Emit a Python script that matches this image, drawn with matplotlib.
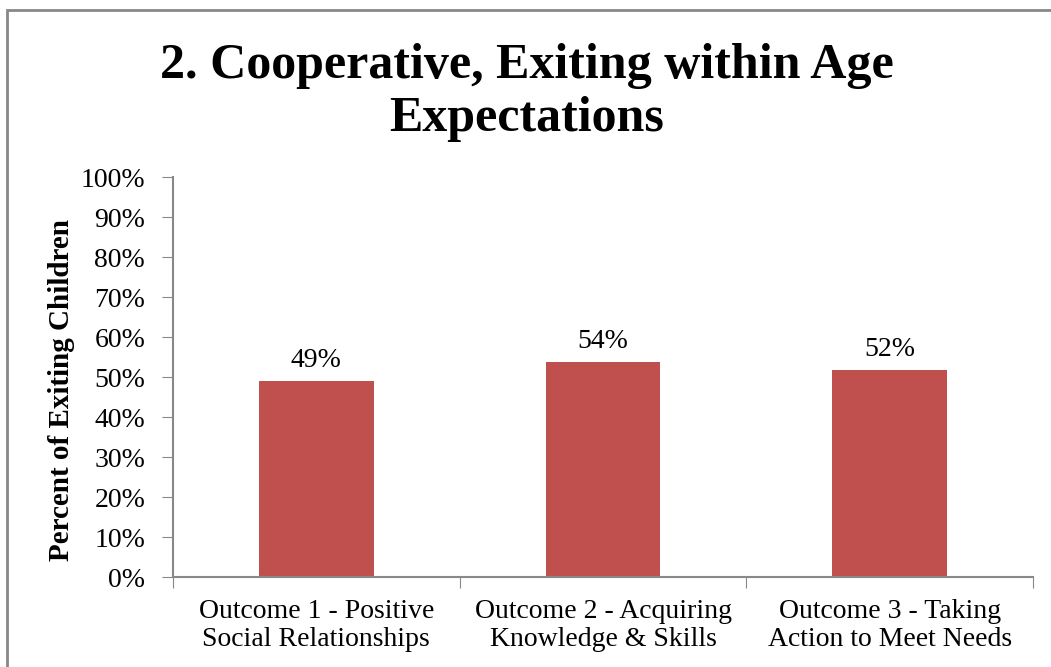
import matplotlib.pyplot as plt
from matplotlib.patches import Rectangle
from matplotlib.ticker import PercentFormatter

categories = ['Outcome 1 - Positive\nSocial Relationships',
              'Outcome 2 - Acquiring\nKnowledge & Skills',
              'Outcome 3 - Taking\nAction to Meet Needs']
values = [0.49, 0.537, 0.518]
labels = ['49%', '54%', '52%']

plt.rcParams['font.family'] = ['Liberation Serif', 'DejaVu Serif']

fig = plt.figure(figsize=(10.51, 6.67), dpi=100)
ax = fig.add_axes([0.1646, 0.1349, 0.8183, 0.5997])

x = range(len(categories))
ax.bar(x, values, width=0.4, color='#c0504d')
for i, v in enumerate(values):
    ax.text(i, v + 0.02, labels[i], ha='center', va='bottom', fontsize=20)

ax.set_xlim(-0.5, 2.5)
ax.set_ylim(0, 1)
ax.set_yticks([i / 10 for i in range(11)])
ax.yaxis.set_major_formatter(PercentFormatter(1.0, decimals=0))
ax.set_xticks([-0.5, 0.5, 1.5, 2.5])
ax.set_xticklabels([])
ax.set_xticks(list(x), minor=True)
ax.set_xticklabels(categories, minor=True, fontsize=20, linespacing=1.15)
ax.tick_params(axis='x', which='minor', length=0, pad=16)
ax.tick_params(axis='x', which='major', length=8, color='#888888', direction='out')
ax.tick_params(axis='y', length=8, color='#888888', labelsize=20, pad=12)

for s in ['top', 'right']:
    ax.spines[s].set_visible(False)
for s in ['left', 'bottom']:
    ax.spines[s].set_color('#888888')
    ax.spines[s].set_linewidth(1.5)

fig.text(62 / 1051, 1 - 390 / 667, 'Percent of Exiting Children', rotation=90,
         ha='center', va='center', fontsize=21, fontweight='bold')

fig.text(0.5015, 0.862, '2. Cooperative, Exiting within Age\nExpectations',
         ha='center', va='center', fontsize=36, fontweight='bold', linespacing=1.2)

fig.patches.append(Rectangle((7 / 1051, -0.05), 1.2, 1 - 9.5 / 667 + 0.05,
                             transform=fig.transFigure, fill=False,
                             edgecolor='#888888', linewidth=2))

plt.savefig('out.png', dpi=100)
